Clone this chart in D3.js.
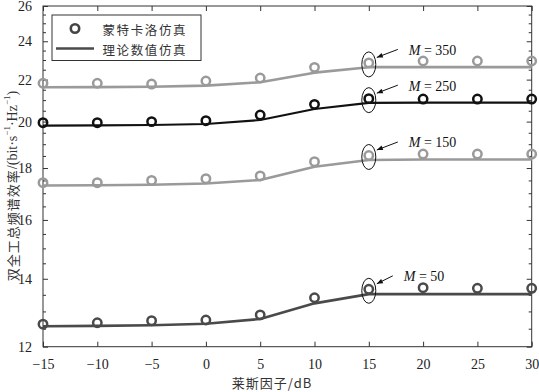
<!DOCTYPE html>
<html><head><meta charset="utf-8">
<script src="https://cdn.jsdelivr.net/npm/d3@7"></script>
<style>body{margin:0;background:#fff}</style>
</head><body><svg id="c" width="539" height="392"></svg>
<script>
// ---- data ----
const riceK = [-15, -10, -5, 0, 5, 10, 15, 20, 25, 30];
const seriesM = [350, 250, 150, 50];
const mc350 = [21.82, 21.82, 21.78, 21.93, 22.08, 22.62, 22.85, 22.95, 22.95, 22.95];
const th350 = [21.62, 21.63, 21.65, 21.70, 21.87, 22.35, 22.63, 22.63, 22.63, 22.63];
const mc250 = [19.95, 19.95, 20.00, 20.04, 20.30, 20.80, 21.07, 21.05, 21.05, 21.05];
const th250 = [19.82, 19.83, 19.85, 19.89, 20.07, 20.58, 20.87, 20.88, 20.88, 20.88];
const mc150 = [17.41, 17.41, 17.50, 17.57, 17.68, 18.26, 18.52, 18.58, 18.58, 18.58];
const th150 = [17.30, 17.31, 17.33, 17.38, 17.52, 18.05, 18.33, 18.35, 18.35, 18.35];
const mc50  = [12.63, 12.67, 12.73, 12.75, 12.90, 13.41, 13.67, 13.72, 13.70, 13.70];
const th50  = [12.57, 12.58, 12.60, 12.64, 12.78, 13.24, 13.52, 13.52, 13.52, 13.52];
const xTicks = [-15, -10, -5, 0, 5, 10, 15, 20, 25, 30];
const yTicks = [12, 14, 16, 18, 20, 22, 24, 26];
const legendLabels = ["蒙特卡洛仿真", "理论数值仿真"];
const xLabel = "莱斯因子/dB";
const annotK = 15;

// ---- layout ----
const L = 43, R = 531.7, T = 6, B = 346.7;
const svg = d3.select("#c");
const x = d3.scaleLinear().domain([-15, 30]).range([L, R]);
const y = d3.scaleLog().domain([12, 26]).range([B, T]);
const serif = "'Liberation Serif','Times New Roman',serif";
const cjk = "'Noto Sans CJK SC','Noto Sans CJK JP',sans-serif";
const frame = "#333";

const series = [
  {m: seriesM[0], mc: mc350, th: th350, color: "#9a9a9a", w: 2.6},
  {m: seriesM[1], mc: mc250, th: th250, color: "#111111", w: 2.1},
  {m: seriesM[2], mc: mc150, th: th150, color: "#9a9a9a", w: 2.6},
  {m: seriesM[3], mc: mc50,  th: th50,  color: "#4a4a4a", w: 2.6}
];

// frame
svg.append("rect").attr("x", L).attr("y", T).attr("width", R - L).attr("height", B - T)
  .attr("fill", "none").attr("stroke", frame).attr("stroke-width", 1);

// axes with inward ticks
const gx = svg.append("g").attr("transform", `translate(0,${B})`)
  .call(d3.axisBottom(x).tickValues(xTicks).tickSize(-5).tickPadding(12)
    .tickFormat(d => d < 0 ? "\u2212" + Math.abs(d) : String(d)));
const gxt = svg.append("g").attr("transform", `translate(0,${T})`)
  .call(d3.axisTop(x).tickValues(xTicks).tickSize(-5).tickFormat(""));
const minor = d3.range(12, 26.01, 0.5).filter(v => Math.abs(v % 2) > 1e-6);
const gy = svg.append("g").attr("transform", `translate(${L},0)`)
  .call(d3.axisLeft(y).tickValues(yTicks).tickSize(-5).tickPadding(11).tickFormat(d3.format("d")));
const gym = svg.append("g").attr("transform", `translate(${L},0)`)
  .call(d3.axisLeft(y).tickValues(minor).tickSize(-3).tickFormat(""));
const gyr = svg.append("g").attr("transform", `translate(${R},0)`)
  .call(d3.axisRight(y).tickValues(yTicks).tickSize(-5).tickFormat(""));
const gyrm = svg.append("g").attr("transform", `translate(${R},0)`)
  .call(d3.axisRight(y).tickValues(minor).tickSize(-3).tickFormat(""));
[gx, gxt, gy, gym, gyr, gyrm].forEach(g => {
  g.select(".domain").remove();
  g.selectAll("line").attr("stroke", frame).attr("stroke-width", 1);
  g.selectAll("text").attr("font-family", serif).attr("font-size", 14).attr("fill", "#222");
});

// lines
const line = d3.line().x((d, i) => x(riceK[i])).y(d => y(d));
series.forEach(s => {
  svg.append("path").datum(s.th).attr("d", line).attr("fill", "none")
    .attr("stroke", s.color).attr("stroke-width", s.w).attr("stroke-linejoin", "round");
});
series.forEach(s => {
  svg.append("g").selectAll("circle").data(s.mc).join("circle")
    .attr("cx", (d, i) => x(riceK[i])).attr("cy", d => y(d)).attr("r", 4.2)
    .attr("fill", "none").attr("stroke", s.color).attr("stroke-width", 2.5);
});

// annotations
const defs = svg.append("defs");
defs.append("marker").attr("id", "ah").attr("viewBox", "0 0 10 10").attr("refX", 10).attr("refY", 5)
  .attr("markerWidth", 7).attr("markerHeight", 6).attr("orient", "auto-start-reverse")
  .append("path").attr("d", "M0,1 L10,5 L0,9 Z").attr("fill", "#111");
series.forEach(s => {
  const i = riceK.indexOf(annotK);
  const cx = x(annotK), cy = y(s.mc[i]) + 1.5;
  svg.append("ellipse").attr("cx", cx).attr("cy", cy).attr("rx", 7).attr("ry", 12.5)
    .attr("fill", "none").attr("stroke", "#111").attr("stroke-width", 1);
  const tdx = s.m === 50 ? 35 : 40;
  svg.append("line").attr("x1", cx + tdx - 11).attr("y1", cy - 15)
    .attr("x2", cx + 8).attr("y2", cy - 7).attr("stroke", "#111").attr("stroke-width", 1)
    .attr("marker-end", "url(#ah)");
  const t = svg.append("text").attr("x", cx + tdx).attr("y", cy - 9.5)
    .attr("font-family", serif).attr("font-size", 14).attr("fill", "#111");
  t.append("tspan").attr("font-style", "italic").text("M");
  t.append("tspan").text(" = " + s.m);
});

// legend
const lg = svg.append("g");
lg.append("rect").attr("x", 52).attr("y", 15).attr("width", 149).attr("height", 45.5)
  .attr("fill", "#fff").attr("stroke", frame).attr("stroke-width", 1);
lg.append("circle").attr("cx", 75).attr("cy", 28.5).attr("r", 4.2).attr("fill", "none")
  .attr("stroke", "#444").attr("stroke-width", 2.6);
lg.append("line").attr("x1", 56).attr("x2", 94).attr("y1", 48.5).attr("y2", 48.5)
  .attr("stroke", "#4a4a4a").attr("stroke-width", 2.6);
legendLabels.forEach((lab, k) => {
  lg.append("text").attr("x", 102.5).attr("y", 29 + k * 20).attr("dominant-baseline", "central")
    .attr("font-family", cjk).attr("font-size", 12.5).attr("letter-spacing", 1.6).attr("fill", "#333").text(lab);
});

// axis labels
svg.append("text").attr("x", 272).attr("y", 382.5).attr("text-anchor", "middle").attr("dominant-baseline", "central")
  .attr("font-family", cjk).attr("font-size", 13).attr("letter-spacing", 1).attr("fill", "#333").text(xLabel);

const yl = svg.append("text").attr("transform", "translate(12,186) rotate(-90)")
  .attr("text-anchor", "middle").attr("dominant-baseline", "central").attr("fill", "#333").attr("font-size", 13);
yl.append("tspan").attr("font-family", cjk).attr("letter-spacing", 1).text("双全工总频谱效率");
yl.append("tspan").attr("font-family", serif).attr("font-size", 14).text("/(bit·s");
yl.append("tspan").attr("font-family", serif).attr("font-size", 9).attr("dy", -5).text("\u22121");
yl.append("tspan").attr("font-family", serif).attr("font-size", 14).attr("dy", 5).text("·Hz");
yl.append("tspan").attr("font-family", serif).attr("font-size", 9).attr("dy", -5).text("\u22121");
yl.append("tspan").attr("font-family", serif).attr("font-size", 14).attr("dy", 5).text(")");
</script></body></html>
